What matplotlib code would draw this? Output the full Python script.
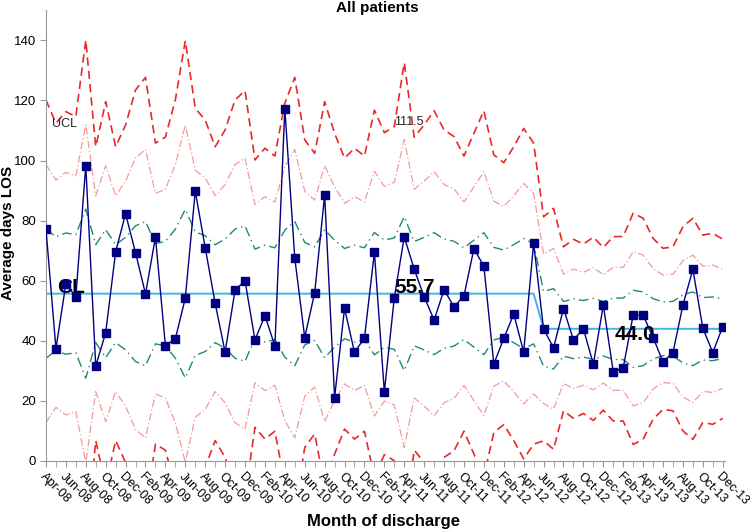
import matplotlib
matplotlib.use("Agg")
import matplotlib.pyplot as plt
import numpy as np

plt.rcParams['font.family'] = ['Liberation Sans', 'DejaVu Sans']

months = []
_mn = ["Jan", "Feb", "Mar", "Apr", "May", "Jun", "Jul", "Aug", "Sep", "Oct", "Nov", "Dec"]
for yr in range(8, 14):
    for i, m in enumerate(_mn):
        if yr == 8 and i < 3:
            continue
        months.append(f"{m}-{yr:02d}")

los = [77.3, 37.4, 59.0, 54.7, 98.3, 31.6, 42.7, 69.6, 82.3,
       69.3, 55.6, 74.5, 38.4, 40.7, 54.2, 89.8, 71.0, 52.5, 36.2, 56.9, 60.0,
       40.3, 48.4, 38.3, 117.3, 67.5, 41.1, 56.0, 88.5, 21.1, 50.8, 36.2, 40.9,
       69.5, 23.0, 54.4, 74.6, 63.8, 54.7, 46.9, 57.0, 51.3, 55.0, 70.7, 64.8,
       32.3, 40.8, 48.9, 36.3, 72.5, 43.9, 37.7, 50.7, 40.3, 44.0, 32.2, 51.9,
       29.7, 31.0, 48.6, 48.6, 41.1, 33.0, 36.1, 51.9, 63.8, 44.2, 36.1, 44.7]

cl = [55.7] * 50 + [44.0] * 19

ucl = [120.2, 112.4, 116.3, 114.6, 140.1, 104.6, 119.6, 104.6, 111.9,
       123.5, 127.7, 105.8, 107.8, 120.2, 139.9, 117.4, 113.5, 104.6, 110.2, 120.2, 123.3,
       100.2, 104.1, 101.5, 119.1, 127.7, 106.9, 102.4, 119.6, 109.1, 100.8, 104.1, 101.5,
       116.8, 109.3, 111.3, 132.6, 107.8, 111.9, 116.6, 110.2, 108.0, 101.5, 109.1, 116.6,
       101.9, 99.3, 104.6, 110.7, 105.8, 81.3, 84.1, 71.3, 73.8, 72.2, 74.5, 71.1,
       74.7, 74.7, 82.5, 80.8, 74.1, 70.8, 71.3, 78.0, 80.8, 75.2, 75.8, 73.8]

x = np.arange(len(months))
cl_a = np.array(cl)
sig = (np.array(ucl) - cl_a) / 3.0

fig = plt.figure(figsize=(7.5, 5.32), dpi=100)
ax = fig.add_axes([0.0613, 0.1335, 0.905, 0.847])

red = "#e8292a"
lred = "#f29a9a"
teal = "#1e8a74"

for k, col, ls, lw in [(3, red, (0, (5, 3)), 1.2),
                       (2, lred, (0, (6, 2, 1, 2)), 0.9),
                       (1, teal, (0, (7, 3, 1, 3)), 1.0)]:
    ax.plot(x, cl_a + k * sig, color=col, ls=ls, lw=lw, zorder=2)
    ax.plot(x, cl_a - k * sig, color=col, ls=ls, lw=lw, zorder=2)

ax.plot(x, cl_a, color="#3fb6e6", lw=1.4, zorder=3)
ax.plot(x, los, color="#000080", lw=1.0, marker="s", ms=5.3,
        markerfacecolor="#000080", markeredgecolor="#000080", zorder=4)

ax.text(0.6, 112.2, "UCL", fontsize=9, ha="left", va="center", color="#222222")
ax.text(35.0, 112.9, "111.5", fontsize=9, ha="left", va="center", color="#222222")
ax.text(1.1, 57.6, "CL", fontsize=15, fontweight="bold", ha="left", va="center")
ax.text(35.0, 57.6, "55.7", fontsize=15, fontweight="bold", ha="left", va="center")
ax.text(57.1, 42.0, "44.0", fontsize=15, fontweight="bold", ha="left", va="center")

ax.set_xlim(0, 68.2)
ax.set_ylim(0, 150)
ax.set_yticks(np.arange(0, 141, 20))
ax.set_xticks(x[::2])
ax.set_xticklabels(months[::2], rotation=-45, ha="left", va="top",
                   rotation_mode="anchor", fontsize=9)
ax.set_xticks(x, minor=True)
ax.tick_params(axis="y", labelsize=9.5, length=4, color="#999999", pad=3)
ax.tick_params(axis="x", which="both", length=4, color="#999999", pad=3)

for s in ["top", "right"]:
    ax.spines[s].set_visible(False)
for s in ["left", "bottom"]:
    ax.spines[s].set_color("#999999")
ax.spines["bottom"].set_bounds(0, 68.2)

fig.text(0.011, 1 - 233 / 532, "Average days LOS", fontsize=11, fontweight="bold",
         ha="center", va="center", rotation=90)
fig.text(383 / 750, 0.019, "Month of discharge", fontsize=12, fontweight="bold",
         ha="center", va="center")
fig.text(0.503, 0.985, "All patients", fontsize=11, fontweight="bold",
         ha="center", va="center")

fig.savefig("out.png", dpi=100)
